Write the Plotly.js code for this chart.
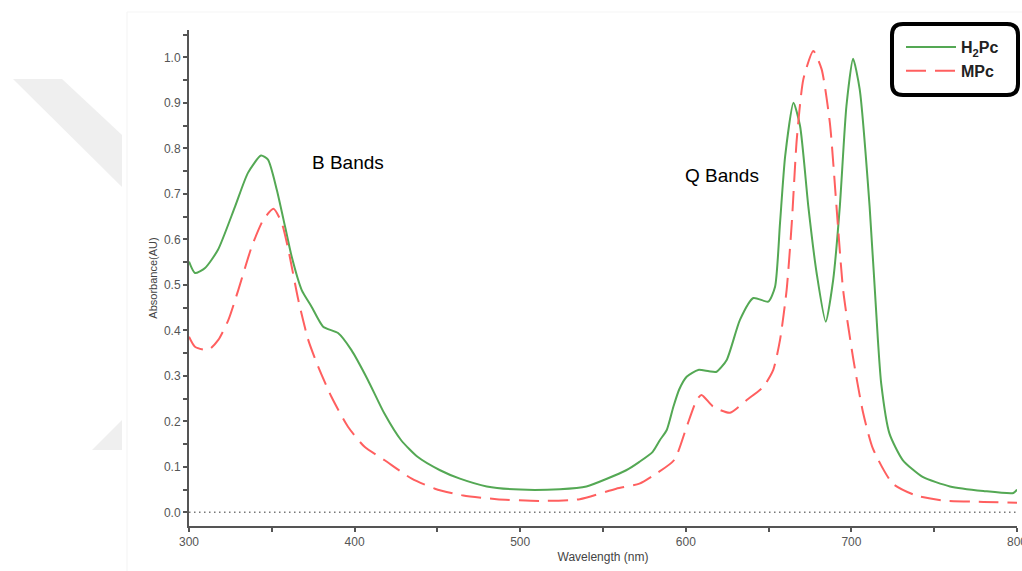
<!DOCTYPE html>
<html>
<head>
<meta charset="utf-8">
<script src="https://cdn.plot.ly/plotly-3.0.1.min.js"></script>
<style>html,body{margin:0;padding:0;background:#fff;}#chart{width:1022px;height:571px;}</style>
</head>
<body>
<div id="chart"></div>
<script>
// ---- data ----
const h2pcWavelength = [300,303.6,309.7,317.5,327.8,335.6,343.5,347.7,353,358,362,368,374,381,390,398,408,418,428,438,451.6,463.6,479.8,500,524,540,564,572,580,584.4,588.5,592.5,596,600.5,607.5,614,618.6,624.7,632.7,640.8,649.8,653.9,656.9,660,665,669,674,679,684.5,689,693,697,701,705,711,716,718,723,731,743,759.5,779.7,797.8,800];
const h2pcAbsorbance = [0.551,0.526,0.537,0.577,0.672,0.746,0.784,0.775,0.709,0.628,0.562,0.489,0.452,0.408,0.394,0.357,0.291,0.217,0.159,0.122,0.0925,0.074,0.057,0.050,0.051,0.057,0.0925,0.111,0.133,0.159,0.181,0.232,0.27,0.298,0.313,0.310,0.309,0.335,0.423,0.471,0.463,0.496,0.636,0.783,0.900,0.849,0.672,0.526,0.419,0.511,0.672,0.893,0.997,0.930,0.672,0.379,0.283,0.173,0.115,0.078,0.057,0.047,0.0425,0.050];

const mpcWavelength = [300,303.6,311.7,317.7,323.8,329.8,337.9,344.9,351,356,360,366,372,378,386,396,406,418,434.5,448.5,465.6,485.8,512,536,558,572,580,593,600.5,606.6,609.5,616.6,626.7,636.8,646.8,652.8,656.9,660.9,664,667,671,677,682,687,691,695,701,707,713,725,739,755.5,779.7,800];
const mpcAbsorbance = [0.386,0.364,0.357,0.379,0.423,0.489,0.584,0.643,0.667,0.636,0.577,0.467,0.379,0.320,0.254,0.188,0.144,0.115,0.074,0.052,0.037,0.029,0.025,0.029,0.052,0.063,0.080,0.115,0.188,0.247,0.258,0.232,0.219,0.247,0.276,0.313,0.379,0.489,0.636,0.819,0.952,1.014,0.974,0.856,0.672,0.489,0.34,0.22,0.14,0.063,0.037,0.026,0.023,0.021];

const seriesNames = ['H<sub>2</sub>Pc', 'MPc'];
const xTickVals = [300,400,500,600,700,800];
const yTickVals = [0,0.1,0.2,0.3,0.4,0.5,0.6,0.7,0.8,0.9,1.0];
const bandLabels = ['B Bands', 'Q Bands'];
const bandLabelX = [396, 622];
const bandLabelY = [0.769, 0.740];

// ---- layout helpers (pixel -> paper) ----
const PL = 189, PR = 1017, PT = 30, PB = 526;
function px(x){ return (x - PL) / (PR - PL); }
function py(y){ return (PB - y) / (PB - PT); }
function P(x, y){ return px(x).toFixed(5) + ',' + py(y).toFixed(5); }
function roundRect(x0, y0, x1, y1, r){
  return 'M' + P(x0 + r, y0) + ' L' + P(x1 - r, y0) + ' Q' + P(x1, y0) + ' ' + P(x1, y0 + r) +
         ' L' + P(x1, y1 - r) + ' Q' + P(x1, y1) + ' ' + P(x1 - r, y1) +
         ' L' + P(x0 + r, y1) + ' Q' + P(x0, y1) + ' ' + P(x0, y1 - r) +
         ' L' + P(x0, y0 + r) + ' Q' + P(x0, y0) + ' ' + P(x0 + r, y0) + ' Z';
}
function poly(pts){
  return 'M' + pts.map(p => P(p[0], p[1])).join(' L') + ' Z';
}

const FONT = 'Liberation Sans, Arial, sans-serif';

const traces = [
  {
    x: h2pcWavelength, y: h2pcAbsorbance, name: seriesNames[0], type: 'scatter', mode: 'lines',
    line: {color: 'rgb(84,168,84)', width: 2, shape: 'spline', smoothing: 0.6}
  },
  {
    x: mpcWavelength, y: mpcAbsorbance, name: seriesNames[1], type: 'scatter', mode: 'lines',
    line: {color: 'rgb(255,95,95)', width: 2, dash: '20px,9px', shape: 'spline', smoothing: 0.6}
  }
];

const layout = {
  width: 1022, height: 571,
  margin: {l: PL, r: 1022 - PR, t: PT, b: 571 - PB},
  paper_bgcolor: '#ffffff', plot_bgcolor: '#ffffff',
  font: {family: FONT, color: '#555'},
  showlegend: true,
  legend: {
    x: px(901), y: py(30), xanchor: 'left', yanchor: 'top',
    bgcolor: 'rgba(0,0,0,0)', borderwidth: 0,
    font: {family: FONT, size: 16, color: '#222', weight: 'bold'},
    itemwidth: 50
  },
  xaxis: {
    range: [300, 800], tickvals: xTickVals, ticktext: xTickVals.map(String),
    ticklabeloverflow: 'allow',
    showline: true, linecolor: '#555', linewidth: 2, mirror: false,
    ticks: 'outside', ticklen: 4, tickwidth: 1.5, tickcolor: '#555',
    minor: {dtick: 50, tick0: 300, ticks: 'outside', ticklen: 4, tickwidth: 1.5, tickcolor: '#555'},
    showgrid: false, zeroline: false,
    tickfont: {family: FONT, size: 12, color: '#555'},
    title: {text: 'Wavelength (nm)', font: {family: FONT, size: 12, color: '#444'}, standoff: 4},
    automargin: false
  },
  yaxis: {
    range: [-0.03, 1.06], tickvals: yTickVals, tickformat: '.1f',
    showline: true, linecolor: '#555', linewidth: 2,
    ticks: 'outside', ticklen: 4, tickwidth: 1.5, tickcolor: '#555',
    minor: {dtick: 0.05, tick0: 0, ticks: 'outside', ticklen: 4, tickwidth: 1.5, tickcolor: '#555'},
    showgrid: false, zeroline: false,
    tickfont: {family: FONT, size: 12, color: '#555'},
    title: {text: 'Absorbance(AU)', font: {family: FONT, size: 11, color: '#444'}, standoff: 4},
    automargin: false
  },
  annotations: bandLabels.map((t, i) => ({
    x: bandLabelX[i], y: bandLabelY[i], xref: 'x', yref: 'y', text: t, showarrow: false,
    font: {family: FONT, size: 19, color: '#000'}
  })),
  shapes: [
    // faint background watermark and panel edge
    {type: 'path', xref: 'paper', yref: 'paper', layer: 'below', path: poly([[13,79],[62,79],[122,135],[122,187]]), fillcolor: '#efefef', line: {width: 0}},
    {type: 'path', xref: 'paper', yref: 'paper', layer: 'below', path: poly([[92,450],[122,420],[122,450]]), fillcolor: '#efefef', line: {width: 0}},
    {type: 'line', xref: 'paper', yref: 'paper', layer: 'below', x0: px(127), x1: px(127), y0: py(12), y1: py(571), line: {color: '#f3f3f3', width: 1}},
    {type: 'line', xref: 'paper', yref: 'paper', layer: 'below', x0: px(127), x1: px(1022), y0: py(12), y1: py(12), line: {color: '#f5f5f5', width: 1}},
    // dotted baseline at zero
    {type: 'line', xref: 'x', yref: 'y', x0: 300, x1: 800, y0: 0, y1: 0, line: {color: '#777', width: 1.5, dash: '1.5px,3.5px'}},
    // rounded legend frame
    {type: 'path', xref: 'paper', yref: 'paper', path: roundRect(892, 24, 1018, 95, 11), line: {color: '#000', width: 4}, fillcolor: 'rgba(0,0,0,0)'}
  ]
};

Plotly.newPlot('chart', traces, layout, {displayModeBar: false, responsive: false});
</script>
</body>
</html>
